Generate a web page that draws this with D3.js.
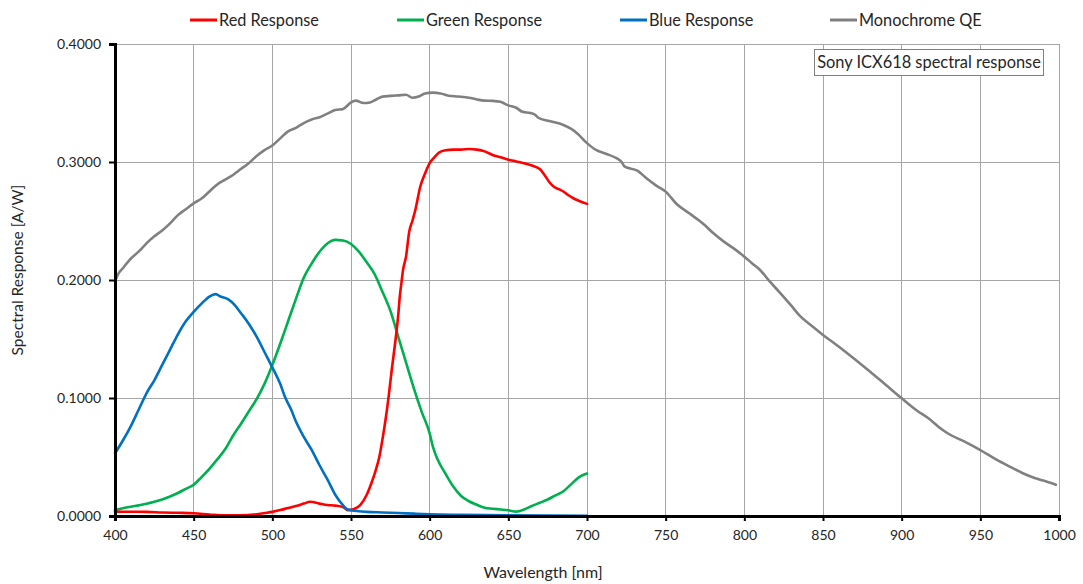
<!DOCTYPE html>
<html>
<head>
<meta charset="utf-8">
<script src="https://cdn.jsdelivr.net/npm/d3@7"></script>
<style>
html,body{margin:0;padding:0;background:#fff;}
svg{display:block;font-family:Lato,"Open Sans",sans-serif;}
</style>
</head>
<body>
<svg id="chart" width="1083" height="584"></svg>
<script>
// ---- data ----
const redNm  = [400,410,420,430,440,450,460,470,480,490,495,500,505,510,515,520,524,530,535,540,545,548,552,556,560,563,566,568,570,572,574,576,578,580,581,582,583,585,587,589,591,594,597,600,603,606,610,615,620,625,630,635,640,645,650,655,660,665,670,673,676,679,682,685,688,691,695,700];
const redVal = [0.0037,0.0036,0.0035,0.0030,0.0027,0.0023,0.0013,0.0005,0.0005,0.0015,0.0025,0.0035,0.0050,0.0068,0.0085,0.0105,0.0121,0.0105,0.0093,0.0088,0.0075,0.0050,0.0060,0.0095,0.0180,0.0280,0.0400,0.0500,0.0650,0.0820,0.1020,0.1250,0.1460,0.1700,0.1860,0.1970,0.2080,0.2200,0.2410,0.2500,0.2600,0.2790,0.2900,0.2990,0.3040,0.3080,0.3100,0.3105,0.3105,0.3110,0.3105,0.3090,0.3060,0.3040,0.3020,0.3005,0.2990,0.2970,0.2940,0.2890,0.2830,0.2790,0.2770,0.2750,0.2720,0.2695,0.2670,0.2645];

const greenNm  = [400,405,410,415,420,425,430,435,440,445,450,455,460,465,470,475,480,485,490,495,500,505,510,515,520,525,530,535,540,545,550,555,560,565,570,575,580,585,590,595,600,602,605,610,615,620,625,630,635,640,645,650,655,660,665,670,675,680,685,690,695,700];
const greenVal = [0.0050,0.0065,0.0078,0.0090,0.0103,0.0120,0.0140,0.0165,0.0195,0.0230,0.0265,0.0330,0.0400,0.0480,0.0565,0.0680,0.0780,0.0885,0.0990,0.1120,0.1280,0.1460,0.1650,0.1840,0.2020,0.2140,0.2240,0.2310,0.2340,0.2335,0.2305,0.2240,0.2150,0.2050,0.1900,0.1740,0.1520,0.1300,0.1080,0.0880,0.0700,0.0590,0.0480,0.0360,0.0250,0.0170,0.0125,0.0095,0.0070,0.0062,0.0055,0.0048,0.0037,0.0055,0.0085,0.0112,0.0140,0.0175,0.0210,0.0270,0.0330,0.0360];

const blueNm  = [400,405,410,415,420,425,430,435,440,445,450,455,460,464,467,472,476,480,485,490,495,500,505,508,512,515,520,525,530,535,540,545,548,555,560,570,580,590,600,620,650,700];
const blueVal = [0.053,0.064,0.076,0.090,0.104,0.115,0.128,0.141,0.154,0.165,0.173,0.180,0.186,0.188,0.186,0.1836,0.179,0.172,0.163,0.152,0.139,0.126,0.112,0.101,0.090,0.080,0.067,0.056,0.043,0.031,0.018,0.009,0.0055,0.0040,0.0035,0.0030,0.0025,0.0020,0.0015,0.0010,0.0005,0.0001];

const monoNm  = [400,402,405,408,410,415,420,425,430,435,440,445,450,455,460,465,470,475,480,485,490,495,500,505,510,515,520,525,530,535,540,545,550,553,558,562,566,570,575,580,585,589,593,597,602,607,612,618,625,630,635,640,645,650,655,659,664,667,669,676,685,690,694,700,706,712,719,722,724,732,738,744,750,757,765,774,780,787,793,800,805,810,816,823,830,835,843,850,858,865,872,880,890,900,910,917,925,930,940,950,960,970,977,985,990,998];
const monoVal = [0.199,0.205,0.210,0.215,0.218,0.224,0.231,0.237,0.242,0.248,0.255,0.260,0.265,0.269,0.275,0.281,0.285,0.289,0.294,0.299,0.305,0.310,0.314,0.320,0.326,0.329,0.333,0.336,0.338,0.341,0.344,0.345,0.3505,0.352,0.350,0.3505,0.353,0.3554,0.356,0.3565,0.357,0.3545,0.3555,0.358,0.3588,0.358,0.3562,0.3555,0.3545,0.353,0.352,0.3518,0.351,0.348,0.346,0.3425,0.3415,0.340,0.3375,0.3347,0.3314,0.328,0.324,0.316,0.310,0.307,0.303,0.300,0.296,0.2926,0.286,0.280,0.2749,0.2644,0.2565,0.2475,0.240,0.2325,0.227,0.2198,0.214,0.2085,0.199,0.1887,0.178,0.170,0.161,0.1534,0.1455,0.1384,0.131,0.1223,0.111,0.0997,0.089,0.0828,0.074,0.0695,0.063,0.0559,0.048,0.041,0.0362,0.032,0.030,0.0265];

const seriesNames  = ["Red Response","Green Response","Blue Response","Monochrome QE"];
const seriesColors = ["#ff0000","#00b050","#0070c0","#808080"];
const xTicks = [400,450,500,550,600,650,700,750,800,850,900,950,1000];
const yTicks = [0,0.1,0.2,0.3,0.4];
const chartTitle = "Sony ICX618 spectral response";
const xTitle = "Wavelength [nm]";
const yTitle = "Spectral Response [A/W]";

// ---- layout ----
const svg = d3.select("#chart");
const L = 115, R = 1059, T = 44, B = 516;
const x = d3.scaleLinear().domain([400,1000]).range([L,R]);
const y = d3.scaleLinear().domain([0,0.4]).range([B,T]);

// gridlines
const grid = svg.append("g");
grid.selectAll("line.v").data(xTicks.slice(1)).join("line")
  .attr("x1",d=>x(d)).attr("x2",d=>x(d)).attr("y1",T).attr("y2",B)
  .attr("stroke","#a6a6a6").attr("stroke-width",1).attr("shape-rendering","crispEdges");
grid.selectAll("line.h").data(yTicks.slice(1)).join("line")
  .attr("x1",L).attr("x2",R).attr("y1",d=>y(d)).attr("y2",d=>y(d))
  .attr("stroke","#a6a6a6").attr("stroke-width",1).attr("shape-rendering","crispEdges");

// series
const series = [
  {nm: redNm, val: redVal},
  {nm: greenNm, val: greenVal},
  {nm: blueNm, val: blueVal},
  {nm: monoNm, val: monoVal}
];
const line = d3.line().x(d=>x(d[0])).y(d=>y(d[1])).curve(d3.curveMonotoneX);
const drawOrder = [3,1,0,2];
drawOrder.forEach(i=>{
  const s = series[i];
  svg.append("path")
    .datum(s.nm.map((n,k)=>[n,s.val[k]]))
    .attr("d",line).attr("fill","none")
    .attr("stroke",seriesColors[i]).attr("stroke-width",2.6)
    .attr("stroke-linejoin","round").attr("stroke-linecap","round");
});

// axes
const xAxis = svg.append("g").attr("transform",`translate(0,${B})`)
  .call(d3.axisBottom(x).tickValues(xTicks).tickSize(5).tickPadding(9).tickFormat(d3.format("d")));
const yAxis = svg.append("g").attr("transform",`translate(${L},0)`)
  .call(d3.axisLeft(y).tickValues(yTicks).tickSize(6).tickPadding(8).tickFormat(d3.format(".4f")));
[xAxis,yAxis].forEach(g=>{
  g.select(".domain").attr("stroke","#000").attr("stroke-width",3);
  g.selectAll(".tick line").attr("stroke","#000").attr("stroke-width",2);
  g.selectAll("text").attr("fill","#262626").attr("font-size",14).attr("font-family","Lato,'Open Sans',sans-serif");
});

// axis titles
svg.append("text").attr("x",543).attr("y",578).attr("text-anchor","middle")
  .attr("font-size",16).attr("fill","#262626").text(xTitle);
svg.append("text").attr("transform","translate(23,270) rotate(-90)").attr("text-anchor","middle")
  .attr("font-size",15.5).attr("fill","#262626").text(yTitle);

// legend
const legendX = [190,397,620,830];
seriesNames.forEach((n,i)=>{
  const g = svg.append("g").attr("transform",`translate(${legendX[i]},20)`);
  g.append("line").attr("x1",0).attr("x2",27).attr("y1",0).attr("y2",0)
    .attr("stroke",seriesColors[i]).attr("stroke-width",3);
  g.append("text").attr("x",29).attr("y",0).attr("dy","0.35em")
    .attr("font-size",16.3).attr("fill","#262626").text(n);
});

// title box
const tb = svg.append("g");
tb.append("rect").attr("x",814.5).attr("y",49.5).attr("width",229).attr("height",26)
  .attr("fill","#fff").attr("stroke","#7f7f7f").attr("stroke-width",1);
tb.append("text").attr("x",929).attr("y",62.5).attr("dy","0.35em").attr("text-anchor","middle")
  .attr("font-size",16.4).attr("fill","#262626").text(chartTitle);
</script>
</body>
</html>
